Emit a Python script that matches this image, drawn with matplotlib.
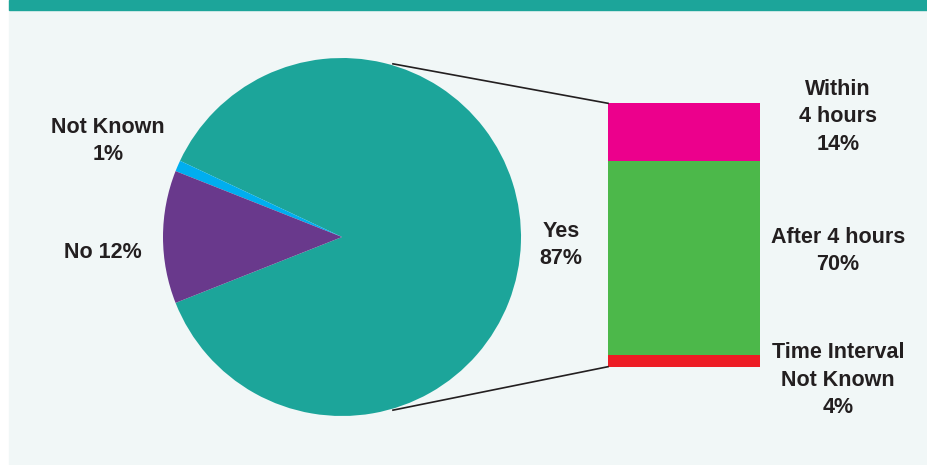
import numpy as np
import matplotlib.pyplot as plt
from matplotlib.patches import Rectangle

plt.rcParams['font.family'] = ['Liberation Sans', 'DejaVu Sans']

# pie: was the patient seen
pie_labels = ['Yes\n87%', 'Not Known\n1%', 'No 12%']
pie_values = [87, 1, 12]
pie_colors = ['#1ca59a', '#00aeef', '#69398c']

# bar: breakdown of "Yes" (segment heights as drawn in the picture)
bar_labels = ['Time Interval\nNot Known\n4%', 'After 4 hours\n70%', 'Within\n4 hours\n14%']
bar_heights = [4.4, 73.6, 22.0]
bar_colors = ['#ed1c24', '#4cb84a', '#ec008c']

teal = '#1ca59a'
panel = '#f1f7f7'
txt = '#231f20'

W, H = 927, 465
fig = plt.figure(figsize=(W / 100, H / 100), dpi=100)
fig.patches.append(Rectangle((9 / W, 0), 1, 1, transform=fig.transFigure, color=panel, zorder=-2))
fig.patches.append(Rectangle((9 / W, 1 - 10 / H), 1, 10 / H, transform=fig.transFigure, color=teal, zorder=-1))

ax = fig.add_axes([0, 0, 1, 1])
ax.set_zorder(1)
ax.patch.set_alpha(0)

cx, cy, r = 342, 228, 179
# No wedge centred on the left side
start = 180 + pie_values[2] / 100 * 180
ax.pie(pie_values, colors=pie_colors, startangle=start, counterclock=True,
       center=(cx, cy), radius=r, frame=True,
       wedgeprops=dict(linewidth=0))
ax.set_xlim(0, W)
ax.set_ylim(0, H)
ax.set_aspect('equal')
ax.axis('off')

# stacked bar
bx, bw = 684, 152
btop, bbot = H - 103.3, H - 366.7
scale = (btop - bbot) / sum(bar_heights)
bottom = bbot
for h, c in zip(bar_heights, bar_colors):
    ax.bar(bx, h * scale, bottom=bottom, width=bw, color=c, linewidth=0)
    bottom += h * scale

# connector lines
ang = np.deg2rad(73.6)
rr = r + 1.5
ax.plot([cx + rr * np.cos(ang), bx - bw / 2], [cy + rr * np.sin(ang), btop], color='#231f20', lw=1.2)
ax.plot([cx + rr * np.cos(ang), bx - bw / 2], [cy - rr * np.sin(ang), bbot], color='#231f20', lw=1.2)

fs = 15.5
kw = dict(ha='center', va='center', fontsize=fs, fontweight='bold', color=txt, linespacing=1.4)
ax.text(561, H - 245, pie_labels[0], **kw)
ax.text(108, H - 141, pie_labels[1], **kw)
ax.text(103, H - 252, pie_labels[2], **kw)
ax.text(838, H - 380, bar_labels[0], **kw)
ax.text(838, H - 251, bar_labels[1], **kw)
ax.text(838, H - 117, bar_labels[2], **kw)

fig.savefig('out.png', dpi=100, facecolor='white')
